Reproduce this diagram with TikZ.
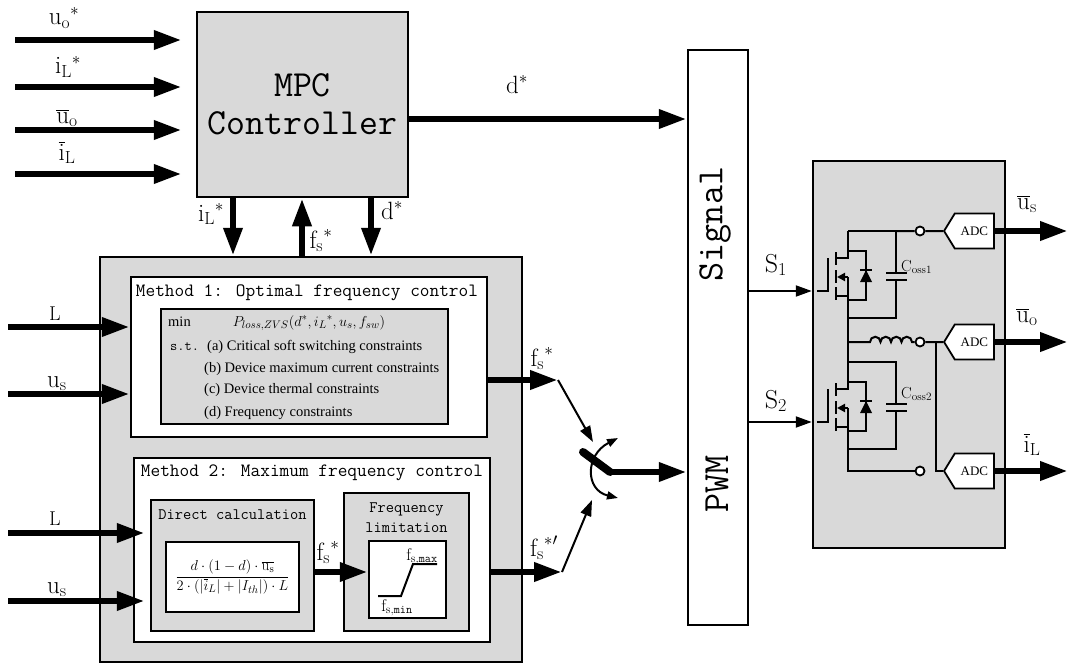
\documentclass[tikz,border=0pt]{standalone}
\usepackage{fontspec}
\usetikzlibrary{arrows.meta,shapes.symbols}
\newfontfamily\timesfont{Liberation Serif}
\tikzset{
  box/.style={draw, line width=2.5pt, fill=black!15, inner sep=0pt},
  wbox/.style={draw, line width=2.5pt, fill=white, inner sep=0pt},
  big/.style={line width=6.5pt, -{Triangle[length=28pt,width=18pt]}},
  thinarr/.style={line width=2pt, -{Triangle[length=16pt,width=11pt]}},
  arcarr/.style={line width=2pt, {Triangle[length=11pt,width=8pt]}-{Triangle[length=11pt,width=8pt]}},
  wire/.style={line width=2pt},
  lab/.style={inner sep=0pt, anchor=base, font=\fontsize{25}{28}\selectfont},
  biglab/.style={inner sep=0pt, anchor=base, font=\fontsize{26}{28}\selectfont},
  smlab/.style={inner sep=0pt, anchor=base, font=\fontsize{17}{20}\selectfont},
  llab/.style={inner sep=0pt, anchor=base, font=\fontsize{20}{22}\selectfont},
  bigmono/.style={inner sep=0pt, font=\ttfamily\fontsize{37}{39}\selectfont},
  ttl/.style={inner sep=0pt, font=\ttfamily\fontsize{18.8}{20}\selectfont},
  subttl/.style={inner sep=0pt, align=center, font=\ttfamily\fontsize{16}{20}\selectfont},
  txt/.style={inner sep=0pt, anchor=base west, font=\timesfont\fontsize{14.5}{16}\selectfont},
  adc/.style={shape=signal, signal to=west, signal pointer angle=117, draw, fill=white, line width=1.8pt,
    minimum width=50pt, minimum height=35pt, inner sep=0pt, font=\timesfont\fontsize{13}{13}\selectfont},
  term/.style={circle, draw, fill=white, line width=1.8pt, minimum size=9pt, inner sep=0pt}
}
\begin{document}
\begin{tikzpicture}[x=1pt,y=-1pt]
\useasboundingbox (0,0) rectangle (1069,669);

\node[box, minimum width=211pt, minimum height=185pt, align=center, font=\ttfamily\fontsize{36.8}{38}\selectfont] (mpc) at (302.5,104.5) {MPC\\Controller};
\node[box, minimum width=422pt, minimum height=405pt] (ctrl) at (311,459.5) {};
\node[wbox, minimum width=356pt, minimum height=160pt] (m1) at (309,357) {};
\node[box, minimum width=287pt, minimum height=115pt] (m1in) at (304.5,366.5) {};
\node[wbox, minimum width=356pt, minimum height=184pt] (m2) at (312,550) {};
\node[box, minimum width=163pt, minimum height=131pt] (dc) at (232.5,565.5) {};
\node[wbox, minimum width=133pt, minimum height=70pt, font=\fontsize{15.5}{18}\selectfont] (dcf) at (232.5,577)
  {$\displaystyle\frac{d\cdot(1-d)\cdot\overline{\mathrm{u}_\mathrm{s}}}{2\cdot(|\overline{i}_L|+|I_{th}|)\cdot L}$};
\node[box, minimum width=125pt, minimum height=138pt] (fl) at (406.5,562) {};
\node[wbox, minimum width=77pt, minimum height=77pt] (fli) at (407.5,579.5) {};
\node[wbox, minimum width=60pt, minimum height=575pt] (sig) at (718,337.5) {};
\node[box, minimum width=192pt, minimum height=387pt] (pw) at (909,354.5) {};

\node[ttl] (m1t) at (307,293) {Method 1: Optimal frequency control};
\node[ttl] (m2t) at (312,473) {Method 2: Maximum frequency control};
\node[subttl] (dct) at (232.5,515) {Direct calculation};
\node[subttl] (flt) at (406.5,518) {Frequency\\limitation};
\node[bigmono, rotate=90] (sigt) at (715,224) {Signal};
\node[bigmono, rotate=90] (pwmt) at (717,484) {PWM};

\node[txt] (tmin) at (168,326) {min};
\node[txt, anchor=base, font=\fontsize{15}{16}\selectfont] (tp) at (309,326) {$P_{loss,ZVS}(d^*,{i_L}^*,u_s,f_{sw})$};
\node[txt, font=\ttfamily\fontsize{14}{16}\selectfont] (tst) at (170,350) {s.t.};
\node[txt] (ta) at (207,350) {(a) Critical soft switching constraints};
\node[txt] (tb) at (204,372) {(b) Device maximum current constraints};
\node[txt] (tc) at (204,393) {(c) Device thermal constraints};
\node[txt] (td) at (204,416) {(d) Frequency constraints};

\coordinate (uo) at (15,40);
\coordinate (il) at (15,87);
\coordinate (uob) at (15,130);
\coordinate (ilb) at (15,174);
\draw[big, shorten >=14pt] (uo) -- (uo -| mpc.west);
\draw[big, shorten >=14pt] (il) -- (il -| mpc.west);
\draw[big, shorten >=14pt] (uob) -- (uob -| mpc.west);
\draw[big, shorten >=14pt] (ilb) -- (ilb -| mpc.west);
\node[lab] (uol) at (64,25) {${\mathrm{u_o}}^*$};
\node[lab] (ill) at (68,74) {${\mathrm{i_L}}^*$};
\node[lab] (uobl) at (67,123) {$\overline{\mathrm{u}}_\mathrm{o}$};
\node[lab] (ilbl) at (67,160) {$\overline{\mathrm{i}}_\mathrm{L}$};

\coordinate (xil) at (233,0);
\coordinate (xfs) at (302,0);
\coordinate (xd) at (371,0);
\draw[big] (xil |- mpc.south) -- (xil |- ctrl.north);
\draw[big] (xfs |- ctrl.north) -- (xfs |- mpc.south);
\draw[big] (xd |- mpc.south) -- (xd |- ctrl.north);
\node[lab] (ildl) at (211,221) {${\mathrm{i_L}}^*$};
\node[lab] (fsul) at (321,248) {${\mathrm{f_s}}^*$};
\node[lab] (ddl) at (392,219) {$\mathrm{d}^*$};

\coordinate (dy) at (0,119);
\draw[big] (mpc.east |- dy) -- (sig.west |- dy);
\node[lab] (dl) at (517,93) {$\mathrm{d}^*$};

\coordinate (l1) at (8,327);
\coordinate (s1) at (8,394);
\coordinate (l2) at (8,533);
\coordinate (s2) at (8,601);
\draw[big] (l1) -- (l1 -| m1.west);
\draw[big] (s1) -- (s1 -| m1.west);
\draw[big, shorten >=5pt] (l2) -- (l2 -| dc.west);
\draw[big, shorten >=5pt] (s2) -- (s2 -| dc.west);
\node[llab] (l1l) at (55,320) {$\mathrm{L}$};
\node[lab] (s1l) at (57,387) {$\mathrm{u_s}$};
\node[llab] (l2l) at (55,525) {$\mathrm{L}$};
\node[lab] (s2l) at (57,593) {$\mathrm{u_s}$};

\coordinate (fsy) at (0,572);
\draw[big] (dc.east |- fsy) -- (fli.west |- fsy);
\node[lab] (fsml) at (328,560) {${\mathrm{f_s}}^*$};
\draw[wire] (378,596) -- (401,596) -- (413,564) -- (437,564);
\node[smlab] (fmax) at (422,560) {$\mathrm{f}_{\mathrm{s},\mathtt{max}}$};
\node[smlab] (fmin) at (397,611) {$\mathrm{f}_{\mathrm{s},\mathtt{min}}$};

\coordinate (o1) at (558,380);
\coordinate (o2) at (562,572);
\draw[big] (m1.east |- o1) -- (o1);
\draw[big] (m2.east |- o2) -- (o2);
\node[lab] (o1l) at (542,366) {${\mathrm{f_s}}^*$};
\node[lab] (o2l) at (544,556) {${\mathrm{f_s}}^{*\prime}$};
\coordinate (ca) at (593,442);
\coordinate (cb) at (592,500);
\coordinate (bl1) at (583,452);
\coordinate (bl2) at (610,472);
\coordinate (ar1) at (618,438);
\coordinate (ar2) at (618,498);
\draw[thinarr] (o1) -- (ca);
\draw[thinarr] (o2) -- (cb);
\draw[line width=8pt, line cap=round] (bl1) -- (bl2);
\draw[big] (bl2) -- (bl2 -| sig.west);
\draw[arcarr] (ar1) .. controls (585,455) and (585,490) .. (ar2);

\coordinate (g1) at (817,291);
\coordinate (g2) at (817,422);
\draw[thinarr] (sig.east |- g1) -- (pw.west |- g1);
\draw[thinarr] (sig.east |- g2) -- (pw.west |- g2);
\node[biglab] (s1l) at (776,272) {$\mathrm{S_1}$};
\node[biglab] (s2l) at (776,408) {$\mathrm{S_2}$};

\node[adc, anchor=west] (adc1) at (943,231) {ADC};
\node[adc, anchor=west] (adc2) at (943,342) {ADC};
\node[adc, anchor=west] (adc3) at (943,471) {ADC};
\node[term] (t1) at (920,231) {};
\node[term] (t2) at (920,342) {};
\node[term] (t3) at (920,471) {};

\foreach \dy in {0,131}{
\begin{scope}[yshift=-\dy pt]
\draw[wire] (848,231) -- (848,258) -- (836,258);
\draw[wire] (848,251) -- (866,251) -- (866,300) -- (848,300);
\draw[wire] (836,252) -- (836,265) (836,270) -- (836,283) (836,287) -- (836,300);
\draw[wire, -{Triangle[length=8pt,width=8pt]}] (848,277) -- (837,277);
\draw[wire] (836,296) -- (848,296);
\draw[wire] (817,291) -- (828,291) -- (828,258);
\draw[wire] (848,231) -- (896,231) -- (896,273) (886,273) -- (907,273) (886,280) -- (907,280) (896,280) -- (896,318) -- (848,318);
\fill (860,282) -- (872,282) -- (866,270) -- cycle;
\draw[wire] (860,270) -- (872,270);
\end{scope}
}
\node[inner sep=0pt, anchor=base west, font=\fontsize{16}{18}\selectfont] (co1) at (901,271) {$\mathrm{C_{oss1}}$};
\node[inner sep=0pt, anchor=base west, font=\fontsize{16}{18}\selectfont] (co2) at (901,398) {$\mathrm{C_{oss2}}$};
\draw[wire] (848,277) -- (848,389) (848,408) -- (848,471) -- (t3);
\draw[wire] (896,231) -- (t1) -- (adc1);
\draw[wire] (848,342) -- (870,342) arc[start angle=180,end angle=360,radius=5.25] arc[start angle=180,end angle=360,radius=5.25]
  arc[start angle=180,end angle=360,radius=5.25] arc[start angle=180,end angle=360,radius=5.25] -- (t2);
\draw[wire] (t2) -- (adc2);
\coordinate (jn) at (936,342);
\draw[wire] (jn) |- (adc3.west);

\coordinate (e1) at (1068,231);
\coordinate (e2) at (1068,342);
\coordinate (e3) at (1068,471);
\draw[big] (adc1.east) -- (e1);
\draw[big] (adc2.east) -- (e2);
\draw[big] (adc3.east) -- (e3);
\node[lab] (usl) at (1027,209) {$\overline{\mathrm{u}}_\mathrm{s}$};
\node[lab] (uol2) at (1027,322) {$\overline{\mathrm{u}}_\mathrm{o}$};
\node[lab] (ill2) at (1032,452) {$\overline{\mathrm{i}}_\mathrm{L}$};
\end{tikzpicture}
\end{document}
